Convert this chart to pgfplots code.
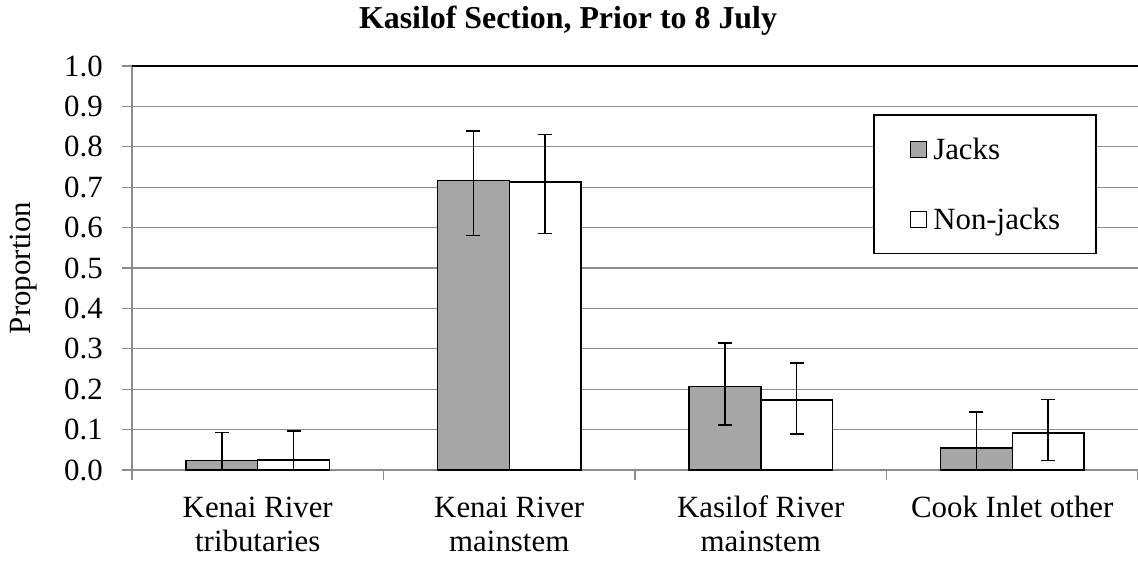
\documentclass[border=0pt]{standalone}
\usepackage{pgfplots}
\pgfplotsset{compat=1.18}
\usepackage{fontspec}
\setmainfont{Liberation Serif}
\definecolor{jackgray}{RGB}{166,166,166}
\definecolor{gridgray}{RGB}{140,140,140}
\newcommand{\tstrut}{\rule{0pt}{23bp}}
\begin{document}
\begin{tikzpicture}
\begin{axis}[
  scale only axis,
  width=1006bp, height=404bp,
  xmin=0, xmax=4, ymin=0, ymax=1,
  axis x line*=bottom, axis y line*=left,
  axis line style={-, gridgray, line width=1.3bp},
  ytick={0,0.1,...,1.0},
  ymajorgrids,
  grid style={gridgray, line width=1.3bp},
  yticklabel={\pgfmathprintnumber[fixed, fixed zerofill, precision=1]{\tick}},
  /pgf/number format/assume math mode=true,
  xtick={0.5,1.5,2.5,3.5},
  xticklabels={\tstrut Kenai River\\tributaries, \tstrut Kenai River\\mainstem, \tstrut Kasilof River\\mainstem, \tstrut Cook Inlet other},
  minor xtick={0,1,2,3,4},
  major x tick style={draw=none},
  tick align=outside,
  major tick length=10bp, minor tick length=10bp,
  tick style={gridgray, line width=1.3bp},
  ticklabel style={font=\fontsize{31}{34}\selectfont, inner sep=0pt},
  xticklabel style={align=center, anchor=north, yshift=-14bp},
  yticklabel style={anchor=east, xshift=-19bp},
  title={Kasilof Section, Prior to 8 July},
  title style={font=\bfseries\fontsize{32}{34}\selectfont, at={(axis description cs:0.4334,1)}, anchor=base, yshift=32bp, inner sep=0pt},
  ylabel={Proportion},
  ylabel style={font=\fontsize{31}{34}\selectfont, at={(axis description cs:0,0.5)}, anchor=base, yshift=101bp, inner sep=0pt},
  ybar, bar width=0.286,
  legend style={at={(axis description cs:0.7366,0.881)}, anchor=north west,
    draw=black, line width=1.5bp, font=\fontsize{31}{34}\selectfont,
    inner xsep=34bp, inner ysep=21bp, row sep=43bp, cells={anchor=west}},
  legend image code/.code={\draw[#1, line width=1.2bp] (2bp,-8bp) rectangle (18bp,8bp); \path (0bp,0bp) (22bp,0bp);},
  error bars/error bar style={black, line width=1.5bp},
  error bars/error mark options={rotate=90, mark size=7bp, line width=1.5bp, black},
]
\addplot[fill=jackgray, draw=black, line width=1.5bp, bar shift=-0.143,
  error bars/.cd, y dir=both, y explicit]
  coordinates {
    (0.5,0.023) += (0,0.070) -= (0,0.040)
    (1.5,0.716) += (0,0.123) -= (0,0.135)
    (2.5,0.207) += (0,0.107) -= (0,0.096)
    (3.5,0.055) += (0,0.088) -= (0,0.075)
  };
\addlegendentry{Jacks}
\addplot[fill=white, draw=black, line width=1.5bp, bar shift=0.143,
  error bars/.cd, y dir=both, y explicit]
  coordinates {
    (0.5,0.025) += (0,0.072) -= (0,0.045)
    (1.5,0.713) += (0,0.117) -= (0,0.128)
    (2.5,0.173) += (0,0.092) -= (0,0.084)
    (3.5,0.092) += (0,0.083) -= (0,0.068)
  };
\addlegendentry{Non-jacks}
\draw[black, line width=1.3bp] (axis description cs:0,1) -- (axis description cs:1,1);
\end{axis}
\pgfresetboundingbox
\path[use as bounding box] (-132bp,-92bp) rectangle (1006bp,470bp);
\end{tikzpicture}
\end{document}
